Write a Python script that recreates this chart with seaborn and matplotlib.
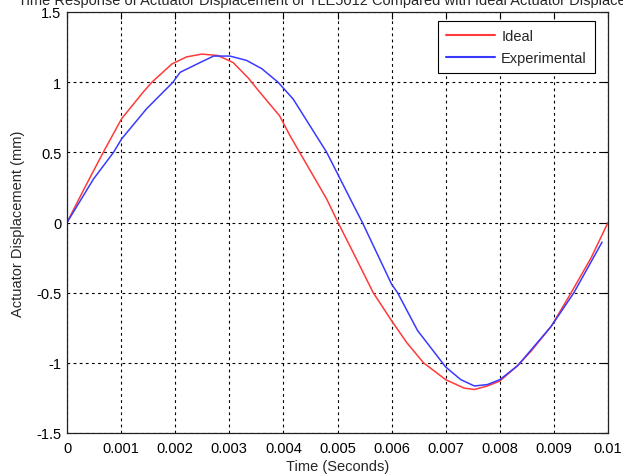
import matplotlib
matplotlib.use("Agg")
import matplotlib.pyplot as plt
import seaborn as sns
import pandas as pd

# Ideal curve
ideal_t = [0, 0.00033, 0.00067, 0.00101, 0.00141, 0.00157, 0.00194, 0.00221, 0.00249, 0.00279,
           0.00307, 0.00335, 0.00356, 0.00393, 0.00412, 0.0043, 0.00455, 0.0048, 0.00501,
           0.00529, 0.00566, 0.006, 0.00628, 0.00659, 0.007, 0.00734, 0.00753, 0.00777,
           0.008, 0.00833, 0.00858, 0.00895, 0.00932, 0.00969, 0.01]
ideal_v = [0, 0.25, 0.5, 0.74, 0.93, 1.0, 1.13, 1.18, 1.20, 1.19,
           1.14, 1.03, 0.93, 0.76, 0.62, 0.5, 0.334, 0.167, 0,
           -0.214, -0.5, -0.70, -0.856, -1.0, -1.12, -1.18, -1.19, -1.165,
           -1.13, -1.02, -0.916, -0.74, -0.5, -0.25, 0]

# Experimental curve
exp_t = [0, 0.00049, 0.00086, 0.00101, 0.00147, 0.00196, 0.00209, 0.00246, 0.00271, 0.00301,
         0.00332, 0.0036, 0.0039, 0.00418, 0.00449, 0.0048, 0.00505, 0.0053, 0.00546,
         0.006, 0.00611, 0.00648, 0.007, 0.00728, 0.00753, 0.00777, 0.008, 0.00833,
         0.00895, 0.00937, 0.00989]
exp_v = [0, 0.31, 0.5, 0.596, 0.81, 1.0, 1.07, 1.14, 1.186, 1.186,
         1.155, 1.096, 1.0, 0.88, 0.69, 0.5, 0.31, 0.12, 0,
         -0.44, -0.5, -0.77, -1.03, -1.12, -1.165, -1.155, -1.12, -1.02,
         -0.74, -0.5, -0.14]

x_ticks = [0, 0.001, 0.002, 0.003, 0.004, 0.005, 0.006, 0.007, 0.008, 0.009, 0.01]
x_labels = ["0", "0.001", "0.002", "0.003", "0.004", "0.005", "0.006", "0.007", "0.008", "0.009", "0.01"]
y_ticks = [-1.5, -1, -0.5, 0, 0.5, 1, 1.5]
y_labels = ["-1.5", "-1", "-0.5", "0", "0.5", "1", "1.5"]

title = "Time Response of Actuator Displacement of TLE5012 Compared with Ideal Actuator Displacement"

sns.set_style("white")
plt.rcParams["font.family"] = ["Liberation Sans", "DejaVu Sans"]

df = pd.concat([
    pd.DataFrame({"t": ideal_t, "v": ideal_v, "series": "Ideal"}),
    pd.DataFrame({"t": exp_t, "v": exp_v, "series": "Experimental"}),
], ignore_index=True)

fig = plt.figure(figsize=(6.23, 4.77), dpi=100)
ax = fig.add_axes([67 / 623, 43 / 477, 541 / 623, 421 / 477])

sns.lineplot(data=df, x="t", y="v", hue="series", sort=False, estimator=None,
             palette={"Ideal": "#ff3a3a", "Experimental": "#3a3aff"},
             linewidth=1.1, ax=ax)

ax.set_xlim(0, 0.01)
ax.set_ylim(-1.5, 1.5)
ax.set_xticks(x_ticks)
ax.set_xticklabels(x_labels)
ax.set_yticks(y_ticks)
ax.set_yticklabels(y_labels)
ax.tick_params(direction="in", length=5, width=0.8, color="black", labelsize=10.5,
               top=True, right=True, labelcolor="black", pad=4)
ax.tick_params(axis="x", pad=6)
ax.grid(True, color="black", linestyle=(0, (2.5, 3)), linewidth=0.8)
for s in ax.spines.values():
    s.set_visible(True)
    s.set_color("#222222")
    s.set_linewidth(0.9)

ax.set_xlabel("Time (Seconds)", fontsize=10.5, labelpad=3)
ax.set_ylabel("Actuator Displacement (mm)", fontsize=10.5, labelpad=8)

leg = ax.legend(loc="upper right", bbox_to_anchor=((595 - 67) / 541, (434 - 22) / 421),
                borderaxespad=0, fontsize=10.5, frameon=True, fancybox=False,
                edgecolor="black", framealpha=1, borderpad=0.55, handlelength=3.4,
                handletextpad=0.4, labelspacing=0.55)
leg.get_frame().set_linewidth(0.8)
for h in leg.get_lines():
    h.set_linewidth(1.5)

fig.text(338 / 623, 1 - 1 / 477, title, ha="center", va="center", fontsize=10.5)

fig.savefig("out.png", dpi=100, facecolor="white")
